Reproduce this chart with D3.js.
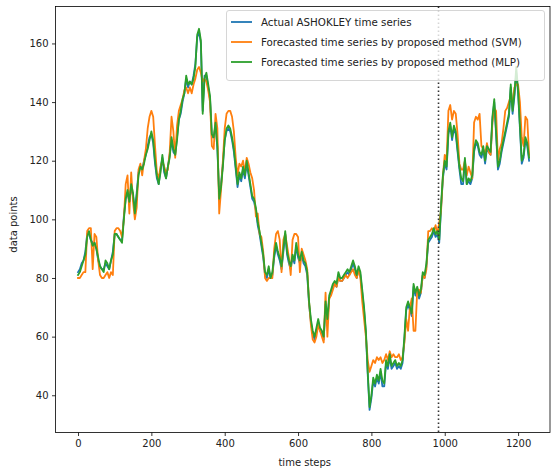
<!DOCTYPE html>
<html><head><meta charset="utf-8">
<script src="https://cdn.jsdelivr.net/npm/d3@7"></script>
<style>
body{margin:0;background:#fff;}
svg{display:block;}
text{font-family:"DejaVu Sans",sans-serif;}
</style>
</head><body>
<svg id="chart" width="551" height="475"></svg>
<script>
// one reading every 5 time steps
const sampleEvery = 5;

const actual = [
82,83,85,86,89,95,95,93,92,92,
90,86,84,83,83,85,84,83,86,89,
95,95,94,93,93,101,107,109,106,111,
108,103,109,116,118,117,120,122,125,128,
129,126,119,114,112,117,121,116,114,118,
122,127,123,122,128,134,136,140,143,148,
145,147,146,149,153,162,164,160,137,149,
149,145,141,128,128,132,124,108,112,119,
127,130,131,130,127,123,117,111,115,113,
117,114,119,115,111,107,106,103,98,95,
91,87,81,80,83,80,81,87,91,88,
86,83,89,95,88,85,83,87,85,91,
87,85,88,85,84,81,71,65,61,59,
62,65,62,61,59,71,65,73,75,77,
78,77,81,79,79,80,81,82,81,83,
85,83,80,83,81,75,69,61,47,35,
39,45,43,46,44,48,43,43,51,49,
53,49,50,51,49,50,49,51,59,69,
71,69,67,77,74,76,73,75,81,80,
84,92,93,94,96,94,95,92,104,114,
119,117,129,132,127,131,129,123,117,112,
112,120,112,113,112,114,123,126,125,122,
121,124,119,124,123,122,134,140,129,117,
119,123,126,129,132,135,145,136,142,150,
143,131,119,121,127,125,120
];

const svm = [
80,80,81,82,82,96,97,97,83,95,
94,86,81,80,80,81,82,80,82,81,
96,97,97,96,94,100,112,115,102,116,
106,100,104,117,119,115,120,124,131,135,
137,135,125,116,114,118,120,118,116,117,
123,135,130,121,132,137,139,141,144,145,
143,145,143,146,148,151,152,150,147,148,
147,144,140,125,124,136,131,102,110,120,
131,136,137,137,135,130,121,115,119,118,
120,116,121,119,116,114,110,101,102,95,
94,89,80,79,80,80,80,90,95,96,
93,82,93,95,91,87,81,93,95,95,
94,82,90,88,86,83,72,64,59,58,
60,64,62,60,58,75,60,73,74,76,
78,77,80,79,79,80,81,80,81,82,
83,81,80,83,80,72,66,60,52,48,
50,52,51,53,52,53,51,52,54,52,
55,53,54,53,53,54,52,53,58,66,
62,70,73,62,62,76,76,75,81,80,
83,96,96,97,96,98,95,99,103,115,
122,120,137,139,134,137,136,129,119,117,
117,120,115,118,116,114,133,135,134,136,
125,124,122,126,123,122,133,138,137,120,
124,126,131,137,138,140,142,140,145,146,
146,140,128,125,135,134,122
];

const mlp = [
81,82,84,86,88,94,96,93,91,92,
90,87,84,83,82,86,85,83,86,88,
95,95,94,93,92,100,107,110,106,112,
109,102,108,115,118,117,119,122,124,127,
130,127,120,115,112,116,122,117,114,118,
121,128,124,122,127,134,137,141,143,149,
146,147,146,148,152,163,165,161,136,148,
150,146,142,129,128,133,125,107,111,118,
127,131,132,131,128,124,118,112,116,114,
118,115,120,116,112,108,107,104,99,96,
92,88,82,81,84,80,82,88,92,89,
87,84,90,96,89,86,84,88,86,92,
88,86,89,86,85,82,72,66,62,60,
63,66,63,62,60,72,66,74,76,78,
79,78,82,80,80,81,82,83,82,84,
86,84,81,84,82,76,70,62,48,36,
40,46,44,47,45,49,45,44,52,50,
54,50,51,52,50,51,50,52,60,70,
72,70,68,78,75,77,74,76,82,81,
85,93,94,95,97,95,96,93,105,115,
120,118,130,133,128,132,130,124,118,114,
113,121,112,114,113,115,124,127,126,123,
122,125,120,125,124,123,135,141,130,118,
120,124,127,130,133,136,146,137,143,152,
144,132,120,122,128,126,121
];

const seriesNames = [
  "Actual ASHOKLEY time series",
  "Forecasted time series by proposed method (SVM)",
  "Forecasted time series by proposed method (MLP)"
];
const seriesColors = ["#1f77b4", "#ff7f0e", "#2ca02c"];
const xTicks = [0, 200, 400, 600, 800, 1000, 1200];
const yTicks = [40, 60, 80, 100, 120, 140, 160];
const splitStep = 983;
const xLabel = "time steps";
const yLabel = "data points";

const svg = d3.select("#chart");
const L = 55.5, R = 550, T = 6.5, B = 432.5;

const x = d3.scaleLinear().domain([-61.4, 1287]).range([L, R]);
const y = d3.scaleLinear().domain([27.3, 172.6]).range([B, T]);

svg.append("defs").append("clipPath").attr("id", "clip")
  .append("rect").attr("x", L).attr("y", T).attr("width", R - L).attr("height", B - T);

const plot = svg.append("g").attr("clip-path", "url(#clip)");
const line = d3.line().x((d, i) => x(i * sampleEvery)).y(d => y(d));

[actual, svm, mlp].forEach((s, k) => {
  plot.append("path").datum(s)
    .attr("d", line)
    .attr("fill", "none")
    .attr("stroke", seriesColors[k])
    .attr("stroke-width", 1.8)
    .attr("stroke-linejoin", "round")
    .attr("stroke-linecap", "square");
});

// split marker
plot.append("line")
  .attr("x1", x(splitStep)).attr("x2", x(splitStep))
  .attr("y1", T).attr("y2", B)
  .attr("stroke", "#333").attr("stroke-width", 1.6)
  .attr("stroke-dasharray", "1.5,2.5");

// axes
const xAxis = svg.append("g").attr("transform", `translate(0,${B})`)
  .call(d3.axisBottom(x).tickValues(xTicks).tickSize(3.5).tickPadding(3.5).tickFormat(d3.format("d")));
const yAxis = svg.append("g").attr("transform", `translate(${L},0)`)
  .call(d3.axisLeft(y).tickValues(yTicks).tickSize(3.5).tickPadding(3.5).tickFormat(d3.format("d")));
[xAxis, yAxis].forEach(a => {
  a.select(".domain").remove();
  a.selectAll(".tick line").attr("stroke", "#000").attr("stroke-width", 0.8);
  a.selectAll(".tick text").attr("fill", "#222").style("font-size", "10px").style("font-family", "DejaVu Sans");
});

// frame
svg.append("rect").attr("x", L).attr("y", T).attr("width", R - L).attr("height", B - T)
  .attr("fill", "none").attr("stroke", "#000").attr("stroke-width", 0.8);

svg.append("text").attr("x", (L + R) / 2 + 2).attr("y", 466)
  .attr("text-anchor", "middle").style("font-size", "10px").attr("fill", "#222").text(xLabel);
svg.append("text").attr("transform", `translate(17,${(T + B) / 2 + 5}) rotate(-90)`)
  .attr("text-anchor", "middle").style("font-size", "10px").attr("fill", "#222").text(yLabel);

// legend
const lg = svg.append("g");
lg.append("rect").attr("x", 226.5).attr("y", 10.5).attr("width", 318).attr("height", 70)
  .attr("rx", 2.5).attr("fill", "#fff").attr("fill-opacity", 0.8)
  .attr("stroke", "#ccc").attr("stroke-width", 0.8);
seriesNames.forEach((name, i) => {
  const cy = 22 + i * 20;
  lg.append("line").attr("x1", 231).attr("x2", 252).attr("y1", cy).attr("y2", cy)
    .attr("stroke", seriesColors[i]).attr("stroke-width", 1.8);
  lg.append("text").attr("x", 261).attr("y", cy + 3.6)
    .style("font-size", "10.3px").attr("fill", "#222").text(name);
});
</script>
</body></html>
